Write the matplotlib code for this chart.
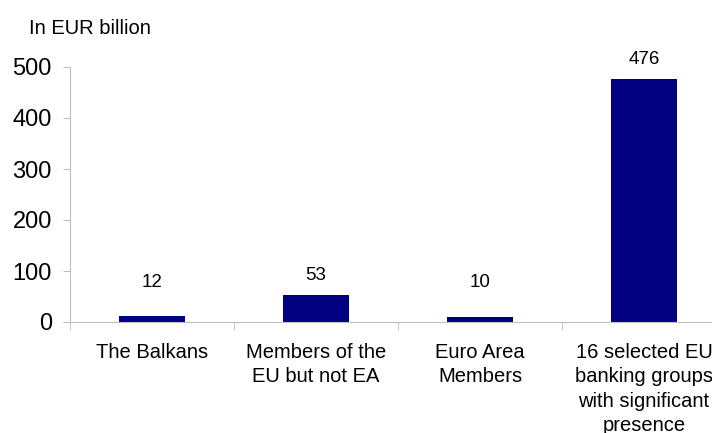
import numpy as np
import matplotlib.pyplot as plt

plt.rcParams['font.family'] = ['Liberation Sans', 'DejaVu Sans']

# Data
categories = ['The Balkans', 'Members of the\nEU but not EA', 'Euro Area\nMembers',
              '16 selected EU\nbanking groups\nwith significant\npresence']
values = [12, 53, 10, 476]

fig = plt.figure(figsize=(7.12, 4.33), dpi=100)
ax = fig.add_axes([70 / 712, 111 / 433, 1 - 70 / 712, 255 / 433])

x = np.arange(len(categories))
ax.bar(x, values, width=0.4, color='#000080', zorder=2)

# value labels above bars
for xi, v in zip(x, values):
    ax.text(xi, max(v, 40) + 38, str(v), ha='center', va='center', fontsize=13.5)

ax.set_yticks([0, 100, 200, 300, 400, 500])

ax.set_xticks(x)
ax.set_xticklabels(categories, fontsize=14.5, linespacing=1.37)
ax.set_xticks(np.arange(len(categories) + 1) - 0.5, minor=True)
ax.tick_params(axis='x', which='major', length=0, pad=15)
ax.tick_params(axis='x', which='minor', length=6, color='#bfbfbf', direction='out')
ax.tick_params(axis='y', length=5, color='#bfbfbf', labelsize=17, pad=8)

ax.set_xlim(-0.5, 3.415)
ax.set_ylim(0, 500)

for s in ['top', 'right']:
    ax.spines[s].set_visible(False)
for s in ['left', 'bottom']:
    ax.spines[s].set_color('#bfbfbf')

fig.text(29 / 712, 1 - 28 / 433, 'In EUR billion', fontsize=14.5, ha='left', va='center')

fig.savefig('out.png', dpi=100)
